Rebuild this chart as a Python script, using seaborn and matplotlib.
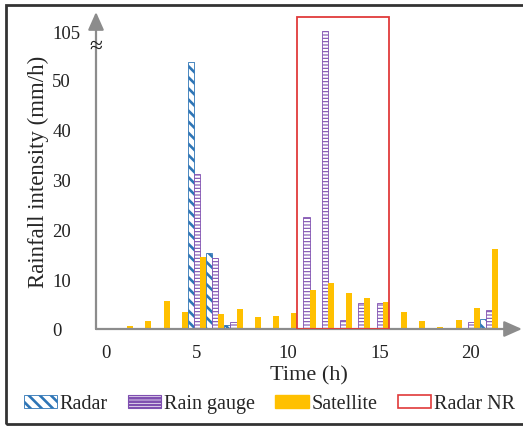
import numpy as np
import pandas as pd
import matplotlib
matplotlib.use("Agg")
import matplotlib.pyplot as plt
from matplotlib.patches import Patch, Rectangle
import seaborn as sns

# Hourly rainfall intensity (mm/h)
hours = list(range(22))
radar = [0, 0, 0, 0, 0, 53.6, 15.3, 0.8, 0, 0, 0, 0.3, 0, 0, 0, 0, 0, 0, 0, 0, 0, 2.0]
rain_gauge = [0, 0, 0, 0, 0, 31.1, 14.3, 1.5, 0, 0, 0, 22.5, 105, 1.8, 5.2, 5.2, 0, 0, 0, 0, 1.4, 3.8]
satellite = [0, 0.6, 1.6, 5.6, 3.4, 14.5, 3.0, 4.0, 2.4, 2.6, 3.2, 7.8, 9.2, 7.2, 6.2, 5.4, 3.4, 1.6, 0.4, 1.8, 4.2, 16.0]
sources = ["Radar", "Rain gauge", "Satellite"]
x_ticks = [0, 5, 10, 15, 20]
y_ticks = [0, 10, 20, 30, 40, 50, 105]
nr_window = (10.5, 15.5)   # Radar NR period (h)

df = pd.DataFrame({
    "Time": hours * 3,
    "Source": [s for s in sources for _ in hours],
    "Value": radar + rain_gauge + satellite,
})

sns.set_style("white")
plt.rcParams["font.family"] = ["Liberation Serif", "DejaVu Serif"]
plt.rcParams["hatch.linewidth"] = 1.9

BLUE = "#2E75B6"
PURPLE = "#7F4FB0"
GOLD = "#FFC000"
RED = "#E03A3A"
GREY = "#8C8C8C"

# broken y axis: values above 55 get squeezed
def fwd(v):
    v = np.asarray(v, dtype=float)
    return np.where(v <= 55, v, 55 + (v - 55) * 0.096)

def inv(d):
    d = np.asarray(d, dtype=float)
    return np.where(d <= 55, d, 55 + (d - 55) / 0.096)

fig = plt.figure(figsize=(5.23, 4.27), dpi=100)
ax = fig.add_axes([96 / 523, 1 - 330 / 427, 426 / 523, 317 / 427])

sns.barplot(data=df, x="Time", y="Value", hue="Source", hue_order=sources,
            palette=[BLUE, PURPLE, GOLD], width=1.0, gap=0, legend=False,
            errorbar=None, ax=ax)

styles = {
    "Radar": dict(facecolor="white", edgecolor=BLUE, hatch="\\\\\\", lw=0.6),
    "Rain gauge": dict(facecolor="white", edgecolor=PURPLE, hatch="-----", lw=0.6),
    "Satellite": dict(facecolor=GOLD, edgecolor=GOLD, hatch=None, lw=0),
}
for cont, src in zip(ax.containers, sources):
    st = styles[src]
    for p in cont:
        p.set_facecolor(st["facecolor"])
        p.set_edgecolor(st["edgecolor"])
        p.set_linewidth(st["lw"])
        if st["hatch"]:
            p.set_hatch(st["hatch"])
            if src == "Rain gauge":
                try:
                    p.set_hatch_linewidth(0.8)
                except AttributeError:
                    pass

ax.set_yscale("function", functions=(fwd, inv))
ax.set_ylim(0, 145)
ax.set_xlim(-0.53, 22.8)

# Radar NR box
ax.add_patch(Rectangle((nr_window[0], 0), nr_window[1] - nr_window[0], 135,
                       fill=False, edgecolor=RED, lw=1.3, zorder=5))

for s in ax.spines.values():
    s.set_visible(False)

arrow = dict(arrowstyle="-|>,head_length=0.9,head_width=0.4", color=GREY,
             lw=1.6, shrinkA=0, shrinkB=0, mutation_scale=12)
ax.annotate("", xy=(0, 1), xytext=(0, 0), xycoords="axes fraction",
            arrowprops=arrow, annotation_clip=False)
ax.annotate("", xy=(1, 0), xytext=(0, 0), xycoords="axes fraction",
            arrowprops=arrow, annotation_clip=False)
ax.text(-0.53, 74, "≈", fontsize=17, ha="center", va="center", color="#222222")

ax.set_xticks(x_ticks)
ax.set_xticklabels([str(t) for t in x_ticks])
ax.set_yticks(y_ticks)
ax.set_yticklabels([str(t) for t in y_ticks])
ax.tick_params(axis="x", length=0, pad=11, labelsize=13.5, colors="#222222")
ax.tick_params(axis="y", length=0, pad=31.5, labelsize=13.5, colors="#222222")
for lab in ax.get_yticklabels():
    lab.set_horizontalalignment("left")

ax.set_xlabel("Time (h)", fontsize=16, labelpad=3)
ax.set_ylabel("Rainfall intensity (mm/h)", fontsize=16.5, labelpad=2)

handles = [
    Patch(facecolor="white", edgecolor=BLUE, hatch="\\\\\\", lw=0.6, label="Radar"),
    Patch(facecolor="white", edgecolor=PURPLE, hatch="-----", lw=0.8, label="Rain gauge"),
    Patch(facecolor=GOLD, edgecolor=GOLD, label="Satellite"),
    Patch(facecolor="white", edgecolor=RED, lw=1.2, label="Radar NR"),
]
fig.legend(handles=handles, loc="center", bbox_to_anchor=(0.515, 0.052), ncol=4,
           frameon=False, fontsize=14.5, handlelength=1.65, handleheight=0.6,
           handletextpad=0.15, columnspacing=1.0)

# outer frame
fig.add_artist(Rectangle((6 / 523, 2 / 427), 1.2, 419 / 427, transform=fig.transFigure,
                         fill=False, edgecolor="#333333", lw=2))

fig.savefig("out.png", dpi=100)
